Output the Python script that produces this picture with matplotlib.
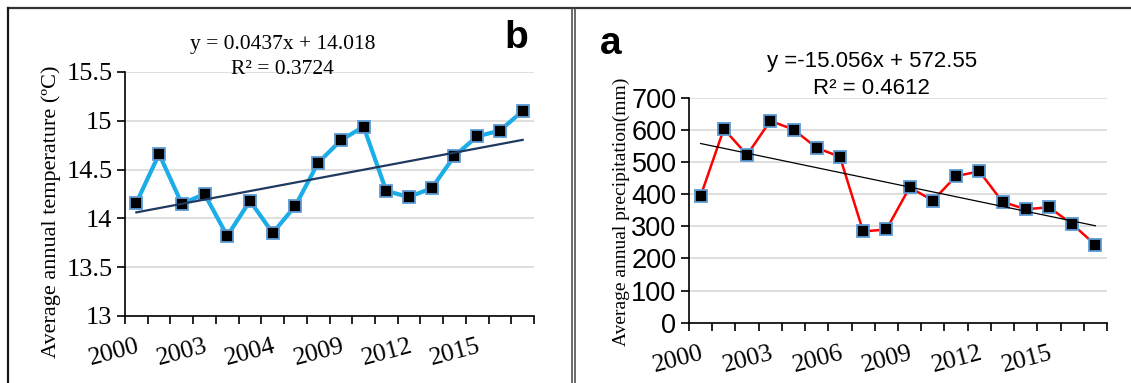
# Two panel figure: temperature (b) and precipitation (a) trends 2000-2017
import matplotlib.pyplot as plt
from matplotlib.lines import Line2D

years = list(range(2000, 2018))
temperature = [14.16, 14.66, 14.15, 14.25, 13.82, 14.18, 13.85, 14.13, 14.57,
               14.80, 14.94, 14.28, 14.22, 14.31, 14.64, 14.84, 14.90, 15.10]
precipitation = [394, 603, 522, 628, 601, 544, 516, 284, 290,
                 421, 380, 456, 471, 376, 353, 359, 307, 242]

# trend line coefficients (x = 1..18)
temp_slope, temp_icpt = 0.0437, 14.018
prec_slope, prec_icpt = -15.056, 572.55

# the left panel labels are printed like this in the original
temp_xlabels = ['2000', '2003', '2004', '2009', '2012', '2015']
prec_xlabels = ['2000', '2003', '2006', '2009', '2012', '2015']

W, H = 1131, 383
fig = plt.figure(figsize=(W / 100, H / 100), dpi=100)


def px_axes(x0, y0, x1, y1):
    # axes from pixel box (top-left origin)
    return fig.add_axes([x0 / W, 1 - y1 / H, (x1 - x0) / W, (y1 - y0) / H])


def style_axis(ax, n, labels, tick_font, tick_size):
    ax.set_xlim(-0.5, n - 0.5)
    for s in ['top', 'right']:
        ax.spines[s].set_visible(False)
    ax.spines['left'].set_linewidth(1.2)
    ax.spines['bottom'].set_linewidth(1.2)
    ax.grid(True, axis='y', color='#d9d9d9', linewidth=1.2, zorder=0)
    ax.set_axisbelow(True)
    # category boundary ticks
    ax.set_xticks([i - 0.5 for i in range(n + 1)], minor=True)
    ax.tick_params(axis='x', which='minor', length=6, width=1.2, direction='out')
    ax.set_xticks(range(0, 3 * len(labels), 3))
    ax.set_xticklabels(labels, rotation=15, ha='right', va='top', rotation_mode='anchor',
                       family='Liberation Serif', fontsize=18.5)
    ax.tick_params(axis='x', which='major', length=0, pad=14)
    ax.tick_params(axis='y', length=6, width=1.2, direction='out', pad=3)
    for t in ax.get_yticklabels():
        t.set_family(tick_font)
        t.set_fontsize(tick_size)


n = len(years)
xs = list(range(n))

# ---- left panel (b): temperature
ax1 = px_axes(125, 72, 534, 316)
ax1.plot(xs, temperature, color='#1aade8', linewidth=3, zorder=3)
ax1.plot(xs, temperature, linestyle='none', marker='s', markersize=8,
         markerfacecolor='black', markeredgecolor='#5b9bd5', markeredgewidth=1.3, zorder=4)
trend1 = [temp_icpt + temp_slope * (i + 1) for i in xs]
ax1.plot(xs, trend1, color='#1f3a60', linewidth=1.6, zorder=5)
ax1.set_ylim(13, 15.5)
ax1.set_yticks([13, 13.5, 14, 14.5, 15, 15.5])
ax1.set_yticklabels(['13', '13.5', '14', '14.5', '15', '15.5'])
style_axis(ax1, n, temp_xlabels, 'Liberation Serif', 19)

# ---- right panel (a): precipitation
ax2 = px_axes(689, 97.7, 1107, 322.7)
ax2.plot(xs, precipitation, color='#ff0000', linewidth=1.8, zorder=3)
ax2.plot(xs, precipitation, linestyle='none', marker='s', markersize=8,
         markerfacecolor='black', markeredgecolor='#5b9bd5', markeredgewidth=1.3, zorder=4)
trend2 = [prec_icpt + prec_slope * (i + 1) for i in xs]
ax2.plot(xs, trend2, color='black', linewidth=0.9, zorder=5)
ax2.set_ylim(0, 700)
ax2.set_yticks(range(0, 701, 100))
style_axis(ax2, n, prec_xlabels, 'Liberation Sans', 19.5)

# ---- texts
fig.text(51 / W, 1 - 212 / H, 'Average annual temperature (ºC)', rotation=90,
         ha='center', va='center', family='Liberation Serif', fontsize=16)
fig.text(621 / W, 1 - 212 / H, 'Average annual precipitation(mm)', rotation=90,
         ha='center', va='center', family='Liberation Serif', fontsize=14)
fig.text(283 / W, 1 - 44 / H, 'y = 0.0437x + 14.018', ha='center', va='center',
         family='Liberation Serif', fontsize=15.5)
fig.text(282 / W, 1 - 70 / H, 'R² = 0.3724', ha='center', va='center',
         family='Liberation Serif', fontsize=15.5)
fig.text(872 / W, 1 - 62 / H, 'y =-15.056x + 572.55', ha='center', va='center',
         family='Liberation Sans', fontsize=16)
fig.text(871 / W, 1 - 88 / H, 'R² = 0.4612', ha='center', va='center',
         family='Liberation Sans', fontsize=16)
fig.text(516 / W, 1 - 38 / H, 'b', ha='center', va='center',
         family='Liberation Sans', fontweight='bold', fontsize=28)
fig.text(611 / W, 1 - 44 / H, 'a', ha='center', va='center',
         family='Liberation Sans', fontweight='bold', fontsize=28)

# ---- panel frames
def frame_line(xa, ya, xb, yb, color='#1a1a1a', lw=1.6):
    fig.add_artist(Line2D([xa / W, xb / W], [1 - ya / H, 1 - yb / H],
                          color=color, linewidth=lw, transform=fig.transFigure))

frame_line(8, 8, W, 8, color='#333333')
frame_line(8, 8, 8, H)
frame_line(571.5, 8, 571.5, H, color='#444444', lw=1.1)
frame_line(575, 8, 575, H, color='#444444', lw=1.1)

fig.savefig('out.png', dpi=100)
